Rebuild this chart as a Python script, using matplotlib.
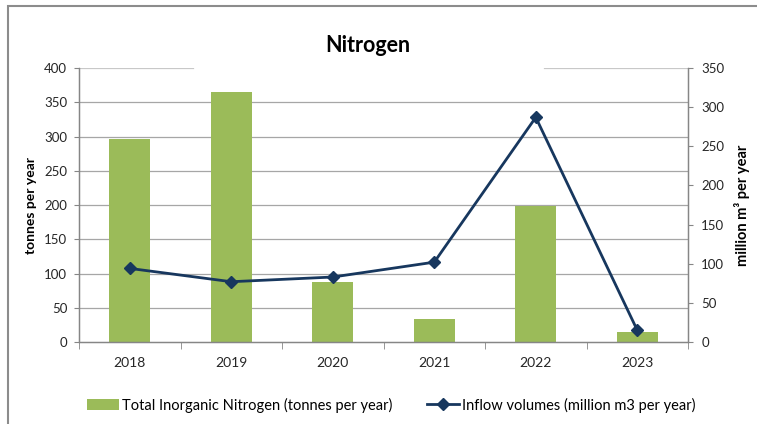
import matplotlib
matplotlib.use('Agg')
import matplotlib.pyplot as plt
import numpy as np
from matplotlib.patches import Rectangle

plt.rcParams['font.family'] = ['Lato', 'DejaVu Sans']

# data
years = ['2018', '2019', '2020', '2021', '2022', '2023']
nitrogen = [297, 365, 88, 33, 199, 14]          # tonnes per year (left axis)
inflow = [94, 77, 83, 102, 287, 15]             # million m3 per year (right axis)
left_ticks = [0, 50, 100, 150, 200, 250, 300, 350, 400]
right_ticks = [0, 50, 100, 150, 200, 250, 300, 350]

bar_col = '#9BBB59'
line_col = '#17375E'
grid_col = '#a6a6a6'
axis_col = '#868686'

fig = plt.figure(figsize=(7.57, 4.24), dpi=100)
ax = fig.add_axes([0.1044, 0.1934, 0.9089 - 0.1044, 0.8396 - 0.1934])
ax2 = ax.twinx()

x = np.arange(len(years))

# gridlines (top one broken where the title sits)
for v in left_ticks[1:-1]:
    ax.axhline(v, color=grid_col, lw=0.9, zorder=0)
ax.axhline(left_ticks[-1], xmax=0.187, color='#c8c8c8', lw=0.9, zorder=0)
ax.axhline(left_ticks[-1], xmin=0.764, color='#c8c8c8', lw=0.9, zorder=0)

bars = ax.bar(x, nitrogen, width=0.4, color=bar_col, zorder=2,
              label='Total Inorganic Nitrogen (tonnes per year)')
line, = ax2.plot(x, inflow, color=line_col, lw=2.0, marker='D', markersize=6.5,
                 zorder=3, label='Inflow volumes (million m3 per year)')

ax.set_xlim(-0.5, len(years) - 0.5)
ax.set_ylim(0, 400)
ax2.set_ylim(0, 350)
ax.set_yticks(left_ticks)
ax2.set_yticks(right_ticks)
ax.set_xticks(x)
ax.set_xticklabels(years)
ax.set_xticks(np.arange(-0.5, len(years)), minor=True)

ax.tick_params(axis='x', which='major', length=0, pad=11, labelsize=10, colors='#262626')
ax.tick_params(axis='x', which='minor', length=5, direction='out', color=axis_col)
ax.tick_params(axis='y', length=3.5, pad=5, labelsize=9.5, color=axis_col, labelcolor='#262626')
ax2.tick_params(axis='y', length=3.5, pad=6, labelsize=9.5, color=axis_col, labelcolor='#262626')

for a in (ax, ax2):
    a.spines['top'].set_visible(False)
    for s in ('left', 'right', 'bottom'):
        a.spines[s].set_color(axis_col)
        a.spines[s].set_linewidth(0.9)

ax.set_ylabel('tonnes per year', fontweight='bold', fontsize=10, labelpad=5)
ax2.set_ylabel('million m³ per year', fontweight='bold', fontsize=10.5,
               rotation=90, labelpad=7)

fig.text(368 / 757, 1 - 45 / 424, 'Nitrogen', fontweight='bold', fontsize=15.5,
         ha='center', va='center')

fig.legend([bars, line], [bars.get_label(), line.get_label()], ncol=2,
           loc='center', bbox_to_anchor=(391 / 757, 19 / 424), frameon=False,
           fontsize=10.5, handlelength=2.2, handletextpad=0.2, columnspacing=2.4)

# chart frame (only left and top edges fall inside the image)
fig.patches.append(Rectangle((8 / 757, -0.1), 1.1, 1.1 - 6.5 / 424,
                             transform=fig.transFigure, fill=False,
                             edgecolor='#8c8c8c', lw=1.5))

fig.savefig('out.png', dpi=100)
